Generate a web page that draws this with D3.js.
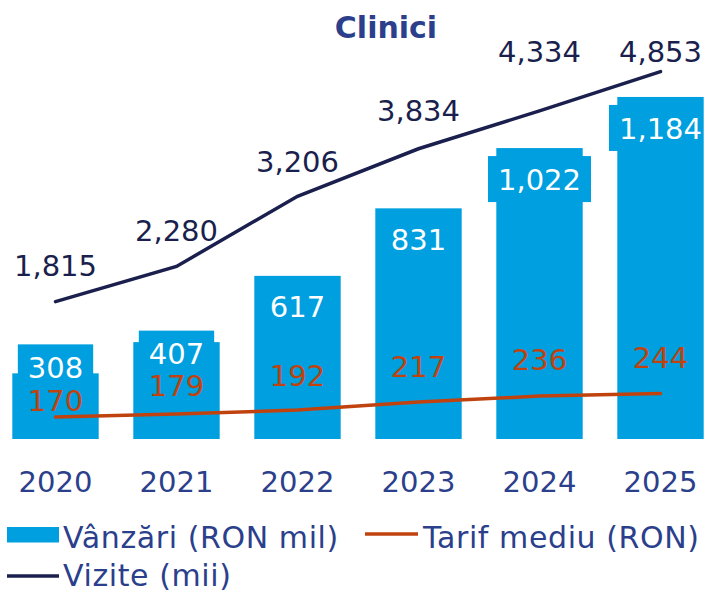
<!DOCTYPE html>
<html>
<head>
<meta charset="utf-8">
<script src="https://cdn.jsdelivr.net/npm/d3@7"></script>
<style>
  body { margin: 0; background: #fff; }
  svg text { font-family: "DejaVu Sans", Verdana, sans-serif; }
</style>
</head>
<body>
<div id="chart"></div>
<script>
var years = ["2020", "2021", "2022", "2023", "2024", "2025"];
var vanzari = [308, 407, 617, 831, 1022, 1184];
var tarif = [170, 179, 192, 217, 236, 244];
var vizite = [1815, 2280, 3206, 3834, 4334, 4853];

var barColor = "#009fdf";
var tarifColor = "#c0430f";
var viziteColor = "#1a1f4d";
var textBlue = "#2b3f8c";

// label placement tweaks (px), the source chart had some labels moved by hand
var salesBoxShift = [-37, -19.5, 0, 0, 0, 0];
var tarifLabelLift = [16, 29, 35, 36, 37, 36];
var viziteLabelLift = [36, 36, 35, 38, 59, 20];

var draw = function() {
  var width = 707, height = 593, fs = 29;

  var svg = d3.select("#chart").append("svg")
    .attr("width", width)
    .attr("height", height);

  svg.append("defs").append("clipPath").attr("id", "plotclip")
    .append("rect").attr("x", 0).attr("y", 0).attr("width", 703).attr("height", 500);

  var x = d3.scaleBand()
    .domain(years)
    .range([-5, 721])
    .paddingInner(0.286)
    .paddingOuter(0.143);

  var y = d3.scaleLinear().domain([100, 1400]).range([439, 28.8]);
  var y2 = d3.scaleLinear().domain([0, 5000]).range([439, 60.5]);

  var cx = function(i) { return x(years[i]) + x.bandwidth() / 2; };
  var capMid = fs * 0.729 / 2;

  // title
  svg.append("text")
    .attr("x", 386).attr("y", 38)
    .attr("text-anchor", "middle")
    .style("font-size", "30px").style("font-weight", "bold")
    .style("fill", textBlue)
    .text("Clinici");

  // bars
  svg.append("g").selectAll("rect")
    .data(vanzari)
    .enter().append("rect")
    .attr("x", function(d, i) { return x(years[i]); })
    .attr("y", function(d) { return y(d); })
    .attr("width", x.bandwidth())
    .attr("height", function(d) { return y(100) - y(d); })
    .style("fill", barColor);

  // sales labels with box
  var salesG = svg.append("g").attr("clip-path", "url(#plotclip)");
  vanzari.forEach(function(d, i) {
    var boxTop = y(d) + 8 + salesBoxShift[i];
    var t = salesG.append("text")
      .attr("x", cx(i))
      .attr("y", boxTop + 23 + capMid)
      .attr("text-anchor", "middle")
      .style("font-size", fs + "px")
      .style("fill", "#fff")
      .text(d3.format(",")(d));
    var w = t.node().getComputedTextLength() + 20;
    salesG.insert("rect", "text")
      .attr("x", cx(i) - w / 2)
      .attr("y", boxTop)
      .attr("width", w)
      .attr("height", 46)
      .style("fill", barColor);
  });

  // lines
  var lineTarif = d3.line()
    .x(function(d, i) { return cx(i); })
    .y(function(d) { return y(d); });
  var lineViz = d3.line()
    .x(function(d, i) { return cx(i); })
    .y(function(d) { return y2(d); });

  svg.append("path")
    .datum(tarif)
    .attr("d", lineTarif)
    .style("fill", "none")
    .style("stroke", tarifColor)
    .style("stroke-width", 3.5)
    .style("stroke-linecap", "round");

  svg.append("path")
    .datum(vizite)
    .attr("d", lineViz)
    .style("fill", "none")
    .style("stroke", viziteColor)
    .style("stroke-width", 3.5)
    .style("stroke-linecap", "round");

  // line labels
  svg.append("g").selectAll("text")
    .data(tarif)
    .enter().append("text")
    .attr("x", function(d, i) { return cx(i); })
    .attr("y", function(d, i) { return y(d) - tarifLabelLift[i] + capMid; })
    .attr("text-anchor", "middle")
    .style("font-size", fs + "px")
    .style("fill", tarifColor)
    .text(function(d) { return d3.format(",")(d); });

  svg.append("g").selectAll("text")
    .data(vizite)
    .enter().append("text")
    .attr("x", function(d, i) { return cx(i); })
    .attr("y", function(d, i) { return y2(d) - viziteLabelLift[i] + capMid; })
    .attr("text-anchor", "middle")
    .style("font-size", fs + "px")
    .style("fill", viziteColor)
    .text(function(d) { return d3.format(",")(d); });

  // x axis labels
  svg.append("g").selectAll("text")
    .data(years)
    .enter().append("text")
    .attr("x", function(d, i) { return cx(i); })
    .attr("y", 492)
    .attr("text-anchor", "middle")
    .style("font-size", fs + "px")
    .style("fill", textBlue)
    .text(function(d) { return d; });

  // legend
  var legend = svg.append("g");
  var legendText = function(lx, ly, txt) {
    legend.append("text")
      .attr("x", lx).attr("y", ly)
      .style("font-size", "30px")
      .style("letter-spacing", "0.6px")
      .style("fill", textBlue)
      .text(txt);
  };
  legend.append("rect")
    .attr("x", 7).attr("y", 527).attr("width", 52).attr("height", 15.5)
    .style("fill", barColor);
  legendText(63, 548, "Vânzări (RON mil)");
  legend.append("line")
    .attr("x1", 365).attr("x2", 418).attr("y1", 534).attr("y2", 534)
    .style("stroke", tarifColor).style("stroke-width", 3.5);
  legendText(423, 548, "Tarif mediu (RON)");
  legend.append("line")
    .attr("x1", 7).attr("x2", 59).attr("y1", 576).attr("y2", 576)
    .style("stroke", viziteColor).style("stroke-width", 3.5);
  legendText(63, 586, "Vizite (mii)");
};
draw();
</script>
</body>
</html>
